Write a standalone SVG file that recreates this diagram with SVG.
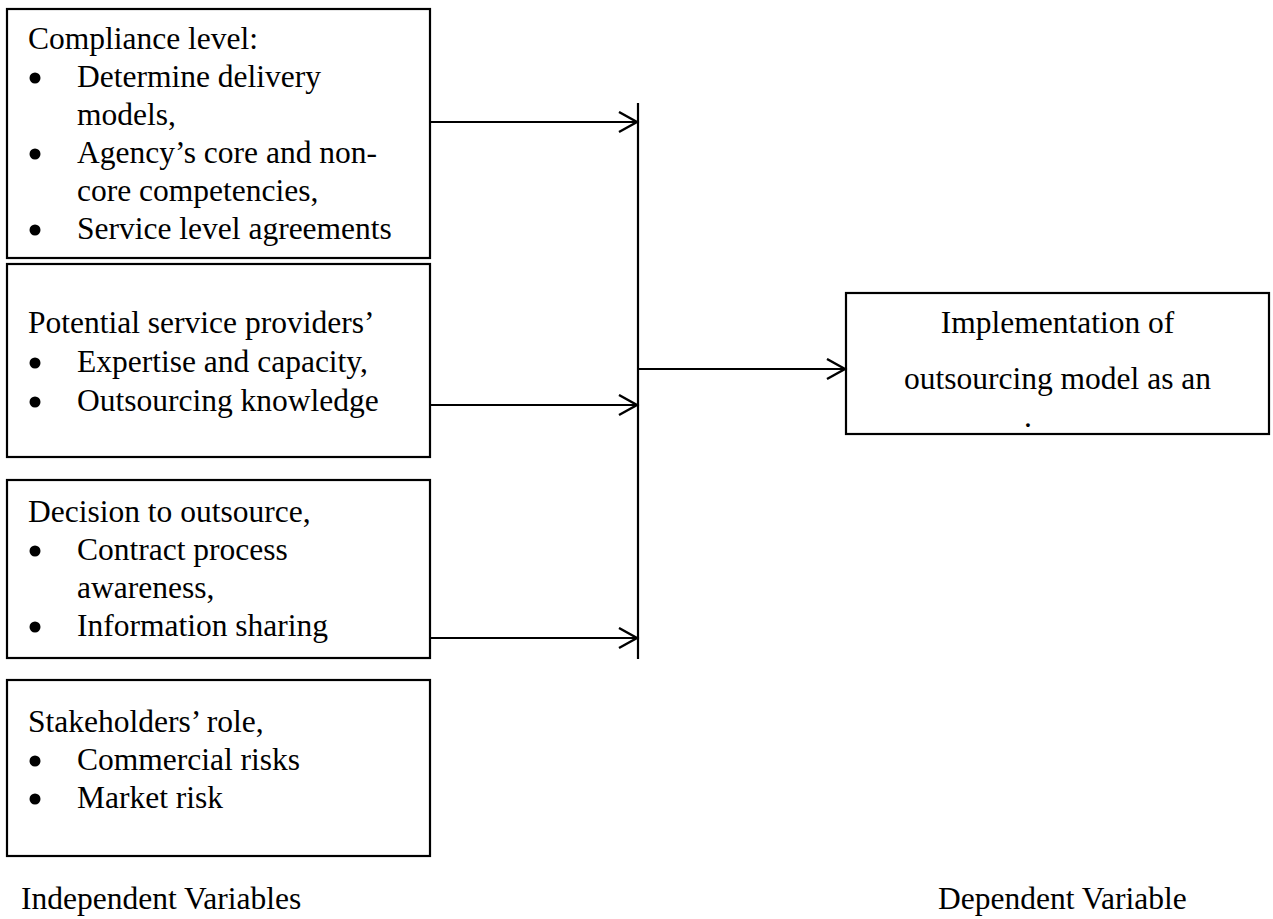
<svg xmlns="http://www.w3.org/2000/svg" width="1273" height="919" viewBox="0 0 1273 919">
<style>
.box{fill:#fff;stroke:#000;stroke-width:2.2}
.t{font-family:"Liberation Serif","Times New Roman",serif;font-size:31.5px;fill:#000}
.c{text-anchor:middle}
.dot{fill:#000}
.ln{stroke:#000;stroke-width:2.2;fill:none}
</style>
<defs>
<marker id="arr" markerWidth="24" markerHeight="24" refX="20" refY="11" orient="auto" markerUnits="userSpaceOnUse">
<path d="M2,1 L20,11 L2,21" fill="none" stroke="#000" stroke-width="2.4"/>
</marker>
</defs>
<rect width="1273" height="919" fill="#fff"/>
<g id="node-compliance">
<rect class="box" x="7" y="9" width="423" height="249"/>
<text class="t" x="28" y="49">Compliance level:</text>
<circle class="dot" cx="35" cy="78" r="5.5"/><text class="t" x="77" y="87">Determine delivery</text>
<text class="t" x="77" y="125">models,</text>
<circle class="dot" cx="35" cy="154" r="5.5"/><text class="t" x="77" y="163">Agency’s core and non-</text>
<text class="t" x="77" y="201">core competencies,</text>
<circle class="dot" cx="35" cy="230" r="5.5"/><text class="t" x="77" y="239">Service level agreements</text>
</g>
<g id="node-providers">
<rect class="box" x="7" y="264" width="423" height="193"/>
<text class="t" x="28" y="333">Potential service providers’</text>
<circle class="dot" cx="35" cy="363" r="5.5"/><text class="t" x="77" y="372">Expertise and capacity,</text>
<circle class="dot" cx="35" cy="402" r="5.5"/><text class="t" x="77" y="411">Outsourcing knowledge</text>
</g>
<g id="node-decision">
<rect class="box" x="7" y="480" width="423" height="178"/>
<text class="t" x="28" y="522">Decision to outsource,</text>
<circle class="dot" cx="35" cy="551" r="5.5"/><text class="t" x="77" y="560">Contract process</text>
<text class="t" x="77" y="598">awareness,</text>
<circle class="dot" cx="35" cy="627" r="5.5"/><text class="t" x="77" y="636">Information sharing</text>
</g>
<g id="node-stakeholders">
<rect class="box" x="7" y="680" width="423" height="176"/>
<text class="t" x="28" y="732">Stakeholders’ role,</text>
<circle class="dot" cx="35" cy="761" r="5.5"/><text class="t" x="77" y="770">Commercial risks</text>
<circle class="dot" cx="35" cy="799" r="5.5"/><text class="t" x="77" y="808">Market risk</text>
</g>
<g id="node-implementation">
<rect class="box" x="846" y="293" width="423" height="141"/>
<text class="t c" x="1057.5" y="333">Implementation of</text>
<text class="t c" x="1057.5" y="389">outsourcing model as an</text>
<text class="t" x="1024" y="427">.</text>
</g>
<g id="connectors">
<line class="ln" x1="638" y1="103" x2="638" y2="659"/>
<line class="ln" x1="430" y1="122" x2="637" y2="122" marker-end="url(#arr)"/>
<line class="ln" x1="430" y1="405" x2="637" y2="405" marker-end="url(#arr)"/>
<line class="ln" x1="430" y1="638" x2="637" y2="638" marker-end="url(#arr)"/>
<line class="ln" x1="638" y1="369" x2="845" y2="369" marker-end="url(#arr)"/>
</g>
<g id="labels">
<text class="t" x="21" y="909">Independent Variables</text>
<text class="t" x="938" y="909">Dependent Variable</text>
</g>
</svg>
